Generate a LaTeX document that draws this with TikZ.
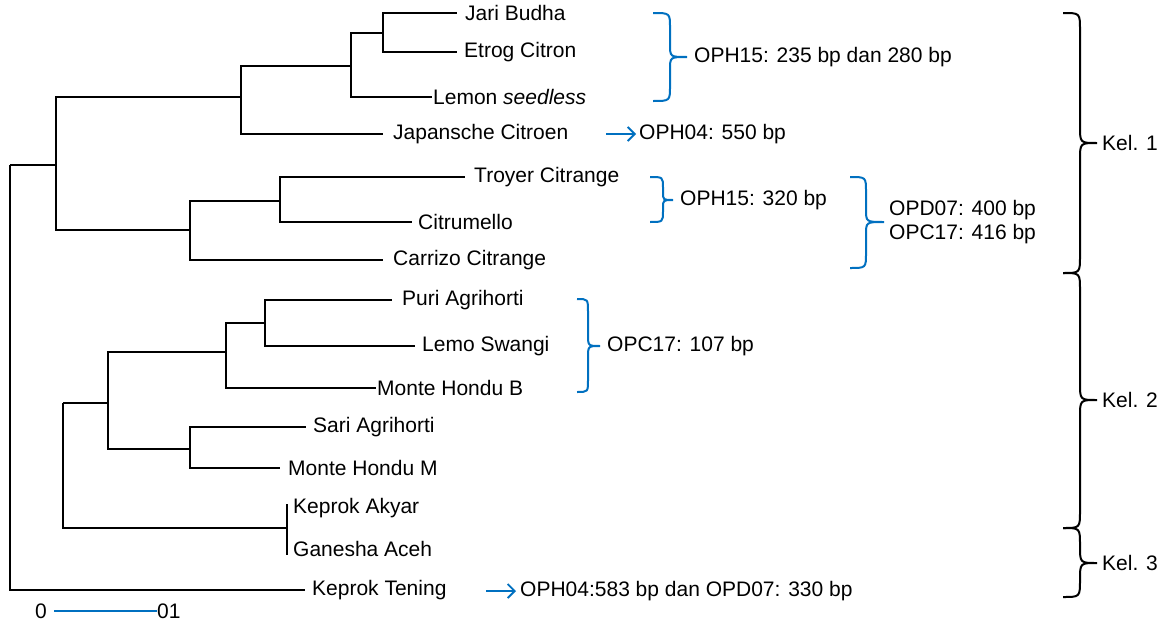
\documentclass[tikz,border=0pt]{standalone}
\usepackage{fontspec}
\setmainfont{Liberation Sans}
\usetikzlibrary{arrows.meta}
\definecolor{bblue}{RGB}{0,112,192}
\begin{document}
\begin{tikzpicture}[x=1pt,y=-1pt,
  tree/.style={line width=2pt, black},
  lbl/.style={anchor=west, inner sep=0pt, font=\fontsize{21}{23}\selectfont},
  bbrace/.style={line width=2pt, bblue},
  kbrace/.style={line width=2pt, black},
  barrow/.style={line width=1.8pt, bblue, -{Straight Barb[length=7pt,width=14pt,line width=1.8pt]}}]
\useasboundingbox[fill=white] (0,0) rectangle (1163,621);
% internal nodes
\coordinate (R) at (10,165);
\coordinate (A) at (56,165);
\coordinate (B) at (241,97);
\coordinate (C) at (351,66);
\coordinate (D) at (383,33);
\coordinate (E) at (190,230);
\coordinate (F) at (280,201);
\coordinate (G) at (63,403);
\coordinate (H) at (108,403);
\coordinate (I) at (226,352);
\coordinate (J) at (265,323);
\coordinate (K) at (190,449);
\coordinate (L) at (287,528);
\coordinate (L1) at (287,504);
\coordinate (L2) at (287,555);
% leaf labels
\node[lbl] (jb) at (465,13) {Jari Budha};
\node[lbl] (ec) at (464,52) {Etrog Citron};
\node[lbl] (ls) at (433,97) {Lemon \textit{seedless}};
\node[lbl] (jc) at (393,134) {Japansche Citroen};
\node[lbl] (tc) at (474,177) {Troyer Citrange};
\node[lbl] (cm) at (418,222) {Citrumello};
\node[lbl] (cc) at (393,260) {Carrizo Citrange};
\node[lbl] (pa) at (402,300) {Puri Agrihorti};
\node[lbl] (lsw) at (422,346) {Lemo Swangi};
\node[lbl] (mhb) at (377,388) {Monte Hondu B};
\node[lbl] (sa) at (313,427) {Sari Agrihorti};
\node[lbl] (mhm) at (288,468) {Monte Hondu M};
\node[lbl] (ka) at (293,508) {Keprok Akyar};
\node[lbl] (ga) at (293,549) {Ganesha Aceh};
\node[lbl] (kt) at (312,590) {Keprok Tening};
% tree
\draw[tree] (R) -- (A);
\draw[tree] (R) |- ([xshift=-7pt]kt.west);
\draw[tree] (A) |- (B);
\draw[tree] (A) |- (E);
\draw[tree] (B) |- (C);
\draw[tree] (B) |- ([xshift=-10pt]jc.west);
\draw[tree] (C) |- (D);
\draw[tree] (C) |- ([xshift=-1pt]ls.west);
\draw[tree] (D) |- ([xshift=-8pt]jb.west);
\draw[tree] (D) |- ([xshift=-7pt]ec.west);
\draw[tree] (E) |- (F);
\draw[tree] (E) |- ([xshift=-10pt]cc.west);
\draw[tree] (F) |- ([xshift=-9pt]tc.west);
\draw[tree] (F) |- ([xshift=-6pt]cm.west);
\draw[tree] (G) -- (H);
\draw[tree] (G) |- (L);
\draw[tree] (L1) -- (L2);
\draw[tree] (H) |- (I);
\draw[tree] (H) |- (K);
\draw[tree] (I) |- (J);
\draw[tree] (I) |- ([xshift=-1pt]mhb.west);
\draw[tree] (J) |- ([xshift=-10pt]pa.west);
\draw[tree] (J) |- ([xshift=-7pt]lsw.west);
\draw[tree] (K) |- ([xshift=-7pt]sa.west);
\draw[tree] (K) |- ([xshift=-8pt]mhm.west);
% scale bar
\node[lbl, anchor=east] (s0) at (47,611) {0};
\node[lbl] (s1) at (157,611) {01};
\draw[line width=1.6pt, bblue] ([xshift=7pt]s0.east) -- (s1.west);
% blue braces
\draw[bbrace] (653,13) .. controls (670,13) .. (670,28) -- (670,44) .. controls (670,57) .. (687,57)
  .. controls (670,57) .. (670,70) -- (670,86) .. controls (670,101) .. (653,101);
\node[lbl] (b1) at (694,57) {OPH15: 235 bp dan 280 bp};
\draw[bbrace] (650,177) .. controls (663,177) .. (663,188) -- (663,192) .. controls (663,200) .. (673,200)
  .. controls (663,200) .. (663,208) -- (663,211) .. controls (663,222) .. (650,222);
\node[lbl] (b2) at (680,200) {OPH15: 320 bp};
\draw[bbrace] (850,177) .. controls (866,177) .. (866,192) -- (866,209) .. controls (866,222) .. (884,222)
  .. controls (866,222) .. (866,235) -- (866,253) .. controls (866,268) .. (850,268);
\node[lbl] (b3a) at (889,210) {OPD07: 400 bp};
\node[lbl] (b3b) at (889,234) {OPC17: 416 bp};
\draw[bbrace] (577,299) .. controls (588,299) .. (588,312) -- (588,334) .. controls (588,346) .. (600,346)
  .. controls (588,346) .. (588,358) -- (588,380) .. controls (588,392) .. (577,392);
\node[lbl] (b4) at (607,346) {OPC17: 107 bp};
% arrows
\node[lbl] (a1) at (639,134) {OPH04: 550 bp};
\draw[barrow] ([xshift=-33pt]a1.west) -- ([xshift=-3pt]a1.west);
\node[lbl] (a2) at (520,591) {OPH04:583 bp dan OPD07: 330 bp};
\draw[barrow] ([xshift=-34pt]a2.west) -- ([xshift=-4pt]a2.west);
% black braces
\draw[kbrace] (1063,13) .. controls (1080,13) .. (1080,30) -- (1080,126) .. controls (1080,143) .. (1097,143)
  .. controls (1080,143) .. (1080,160) -- (1080,256) .. controls (1080,273) .. (1063,273);
\node[lbl] (k1) at (1102,143) {Kel. 1};
\draw[kbrace] (1063,273) .. controls (1080,273) .. (1080,290) -- (1080,383) .. controls (1080,400) .. (1097,400)
  .. controls (1080,400) .. (1080,417) -- (1080,511) .. controls (1080,528) .. (1063,528);
\node[lbl] (k2) at (1102,400) {Kel. 2};
\draw[kbrace] (1063,528) .. controls (1080,528) .. (1080,545) -- (1080,546) .. controls (1080,563) .. (1097,563)
  .. controls (1080,563) .. (1080,580) -- (1080,580) .. controls (1080,597) .. (1063,597);
\node[lbl] (k3) at (1102,563) {Kel. 3};
\end{tikzpicture}
\end{document}
